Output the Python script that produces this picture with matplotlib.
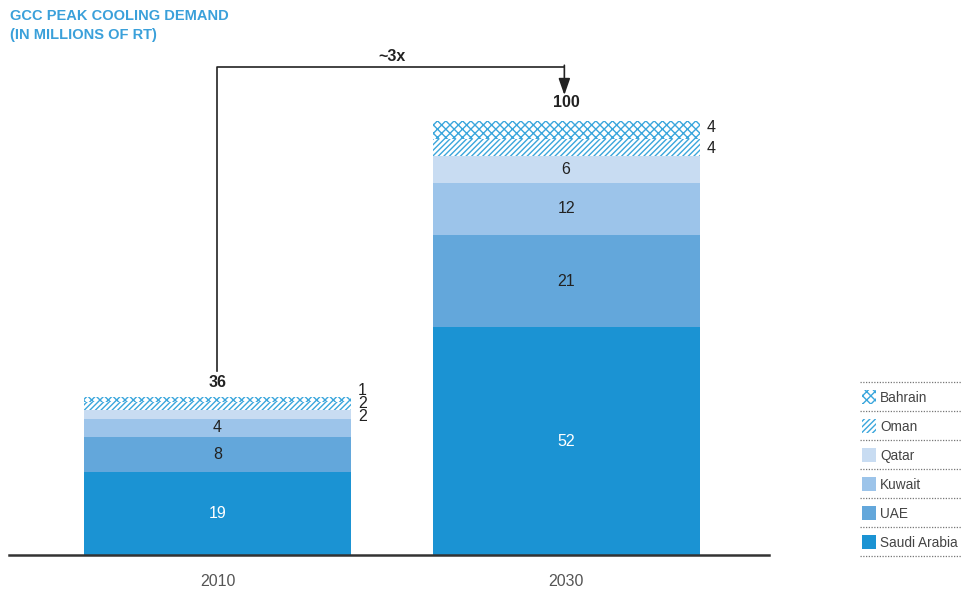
import matplotlib
matplotlib.use("Agg")
import matplotlib.pyplot as plt
from matplotlib.patches import Rectangle

plt.rcParams['font.family'] = ['Liberation Sans Narrow', 'Liberation Sans', 'DejaVu Sans']
plt.rcParams['hatch.linewidth'] = 1.0

years = ["2010", "2030"]
totals = [36, 100]
countries = ["Saudi Arabia", "UAE", "Kuwait", "Qatar", "Oman", "Bahrain"]
values = {
    "Saudi Arabia": [19, 52],
    "UAE": [8, 21],
    "Kuwait": [4, 12],
    "Qatar": [2, 6],
    "Oman": [2, 4],
    "Bahrain": [1, 4],
}
growth_label = "~3x"

colors = {
    "Saudi Arabia": "#1b93d3",
    "UAE": "#63a7db",
    "Kuwait": "#9cc4ea",
    "Qatar": "#c8dcf2",
    "Oman": "white",
    "Bahrain": "white",
}
hatches = {"Oman": "//////", "Bahrain": "xxxx"}
hatch_col = "#3aa6dc"
dark = "#222222"
fs = 11.5

fig = plt.figure(figsize=(9.61, 5.92), dpi=100)
ax = fig.add_axes([9 / 961, 37 / 592, 760 / 961, 555 / 592])

x = [0, 1]
bottoms = [0, 0]
mids = {}
for c in countries:
    v = values[c]
    ax.bar(x, v, width=0.766, bottom=bottoms, color=colors[c],
           edgecolor=hatch_col if c in hatches else "none",
           hatch=hatches.get(c), linewidth=0, zorder=2)
    mids[c] = [b + h / 2 for b, h in zip(bottoms, v)]
    bottoms = [b + h for b, h in zip(bottoms, v)]

# labels inside bars
for c in ["Saudi Arabia", "UAE", "Kuwait"]:
    for i in range(2):
        col = "white" if c == "Saudi Arabia" else dark
        ax.text(x[i], mids[c][i], str(values[c][i]), ha="center", va="center",
                fontsize=fs, color=col, zorder=3)
ax.text(x[1], mids["Qatar"][1], str(values["Qatar"][1]), ha="center", va="center",
        fontsize=fs, color=dark, zorder=3)

# small labels at the right of the bars
right0 = x[0] + 0.766 / 2 + 0.02
ax.text(right0, bottoms[0] + 1.6, str(values["Bahrain"][0]), ha="left", va="center", fontsize=fs, color=dark)
ax.text(right0, bottoms[0] - 1.4, str(values["Oman"][0]), ha="left", va="center", fontsize=fs, color=dark)
ax.text(right0, bottoms[0] - 4.4, str(values["Qatar"][0]), ha="left", va="center", fontsize=fs, color=dark)
right1 = x[1] + 0.766 / 2 + 0.02
ax.text(right1, mids["Bahrain"][1] + 0.7, str(values["Bahrain"][1]), ha="left", va="center", fontsize=fs, color=dark)
ax.text(right1, mids["Oman"][1] - 0.1, str(values["Oman"][1]), ha="left", va="center", fontsize=fs, color=dark)

# totals
tot_base = [bottoms[0], totals[1]]
for i in range(2):
    ax.text(x[i], tot_base[i] + 1.6, str(totals[i]),
            ha="center", va="bottom", fontsize=fs, fontweight="bold", color=dark)

# growth bracket
top_y = 111.5
ax.plot([x[0], x[0], x[1] - 0.005], [42, top_y, top_y], color=dark, lw=1.2, zorder=4)
ax.annotate("", xy=(x[1] - 0.005, 105.0), xytext=(x[1] - 0.005, top_y + 0.3),
            arrowprops=dict(arrowstyle="-|>,head_width=0.35,head_length=1.0",
                            color=dark, lw=1.2, shrinkA=0, shrinkB=0))
ax.text(0.5, top_y + 0.6, growth_label, ha="center", va="bottom", fontsize=fs,
        fontweight="bold", color=dark)

ax.set_xlim(-0.598, 1.582)
ax.set_ylim(0, 126.7)
ax.set_xticks(x)
ax.set_xticklabels(years, fontsize=fs, color="#555555")
ax.tick_params(axis="x", length=0, pad=14)
ax.set_yticks([])
for s in ["top", "right", "left"]:
    ax.spines[s].set_visible(False)
ax.spines["bottom"].set_color("#333333")
ax.spines["bottom"].set_linewidth(1.8)

# title
fig.text(10 / 961, 1 - 16 / 592, "GCC PEAK COOLING DEMAND", fontsize=10.5, color="#3aa0da",
         va="center", ha="left", fontweight="bold")
fig.text(10 / 961, 1 - 35 / 592, "(IN MILLIONS OF RT)", fontsize=10.5, color="#3aa0da",
         va="center", ha="left", fontweight="bold")

# legend
lax = fig.add_axes([858 / 961, 0, 103 / 961, 1])
lax.set_xlim(0, 103)
lax.set_ylim(592, 0)
lax.axis("off")
legend_order = ["Bahrain", "Oman", "Qatar", "Kuwait", "UAE", "Saudi Arabia"]
y0 = 382
step = 29
for k in range(len(legend_order) + 1):
    lax.plot([2, 103], [y0 + k * step] * 2, color="#777777", lw=0.9, ls=(0, (1, 1.2)))
for k, c in enumerate(legend_order):
    yc = y0 + k * step + step / 2
    lax.add_patch(Rectangle((4, yc - 7), 14, 14, facecolor=colors[c],
                            edgecolor=hatch_col if c in hatches else "none",
                            hatch=hatches.get(c), linewidth=0))
    lax.text(22, yc + 1.5, c, ha="left", va="center", fontsize=9.8, color="#444444")

fig.savefig("out.png", dpi=100)
